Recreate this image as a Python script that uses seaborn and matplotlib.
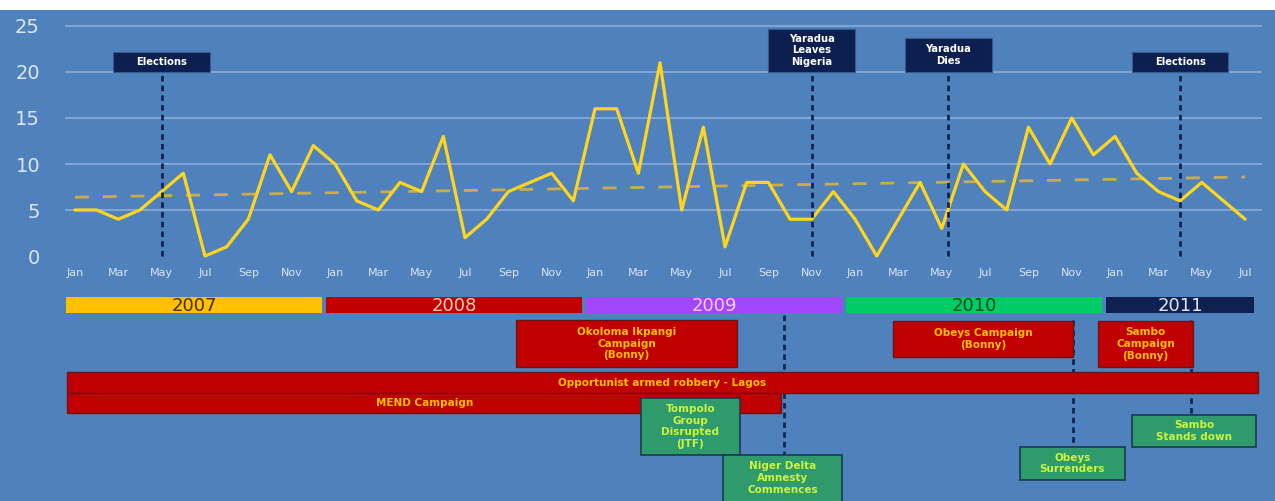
import numpy as np
import matplotlib
matplotlib.use("Agg")
import matplotlib.pyplot as plt
from matplotlib.patches import Rectangle
import seaborn as sns

sns.set_theme(style="white")
plt.rcParams['font.family'] = ['DejaVu Sans']

# monthly incident counts, Jan 2007 - Jul 2011
months = ['Jan', 'Feb', 'Mar', 'Apr', 'May', 'Jun', 'Jul', 'Aug', 'Sep', 'Oct', 'Nov', 'Dec']
counts = [5, 5, 4, 5, 7, 9, 0, 1, 4, 11, 7, 12,
          10, 6, 5, 8, 7, 13, 2, 4, 7, 8, 9, 6,
          16, 16, 9, 21, 5, 14, 1, 8, 8, 4, 4, 7,
          4, 0, 4, 8, 3, 10, 7, 5, 14, 10, 15, 11,
          13, 9, 7, 6, 8, 6, 4]
idx = np.arange(len(counts))
month_labels = [months[i % 12] for i in idx]

# political events (month index) shown above the chart
event_labels = ['Elections', 'Yaradua\nLeaves\nNigeria', 'Yaradua\nDies', 'Elections']
event_months = [4, 34, 40.3, 51]
event_widths = [4.5, 4.0, 4.0, 4.4]
event_heights = [2.2, 4.7, 3.7, 2.2]

# year bands
years = ['2007', '2008', '2009', '2010', '2011']
year_start = [0, 12, 24, 36, 48]
year_end = [12, 24, 36, 48, 55]
year_colors = ['#ffc000', '#c00000', '#a347ff', '#00cc66', '#0f2150']
year_text = ['#3b3300', '#f6c9c4', '#f1cdff', '#0b4a1f', '#e2e8f2']

# campaigns (red) and counter events (green): start month, end month, row top, row bottom
camp_labels = ['Okoloma Ikpangi\nCampaign\n(Bonny)', 'Opportunist armed robbery - Lagos',
               'MEND Campaign', 'Obeys Campaign\n(Bonny)', 'Sambo\nCampaign\n(Bonny)']
camp_start = [20.35, -0.37, -0.37, 37.75, 47.2]
camp_end = [30.55, 54.6, 32.6, 46.05, 51.6]
camp_rows = [(320, 367), (372, 393), (393, 413), (321, 357), (321, 367)]

resp_labels = ['Tompolo\nGroup\nDisrupted\n(JTF)', 'Niger Delta\nAmnesty\nCommences',
               'Obeys\nSurrenders', 'Sambo\nStands down']
resp_start = [26.1, 29.9, 43.6, 48.8]
resp_end = [30.7, 35.4, 48.45, 54.5]
resp_rows = [(398, 455), (455, 506), (447, 480), (415, 447)]
link_months = [32.7, 46.05, 51.5]
link_rows = [(315, 455), (320, 447), (320, 415)]

BG = '#4f81bd'
NAVY = '#0c1f4f'
W, H = 1275, 501

fig = plt.figure(figsize=(W / 100, H / 100), dpi=100)
fig.patch.set_facecolor(BG)
fig.patches.append(Rectangle((0, 1 - 10 / H), 1, 10 / H, transform=fig.transFigure,
                             facecolor='white', edgecolor='none', zorder=0))

xlim = (-0.46, 54.78)
left, width = 65 / W, (1262 - 65) / W

# ---- top: line chart ----
ax = fig.add_axes([left, 1 - 262 / H, width, (262 - 20) / H])
ax.set_facecolor(BG)
for s in ax.spines.values():
    s.set_visible(False)
yt = [0, 5, 10, 15, 20, 25]
for v in yt[1:]:
    ax.axhline(v, color='#86a9d8', lw=1.3, zorder=1)

sns.regplot(x=idx, y=counts, ax=ax, scatter=False, ci=None,
            line_kws=dict(color='#c9ad4c', lw=2, ls=(0, (5, 5)), zorder=2))
sns.lineplot(x=idx, y=counts, ax=ax, color='#ffd51e', lw=2.3, zorder=3)

for lab, m, w, h in zip(event_labels, event_months, event_widths, event_heights):
    ax.vlines(m, 0, 20, color='#13234f', lw=2, ls=(0, (2, 1.5)), zorder=4)
    ax.add_patch(Rectangle((m - w / 2, 20), w, h, facecolor=NAVY,
                           edgecolor='#3a5a8f', lw=0.8, zorder=5))
    ax.text(m, 20 + h / 2, lab, ha='center', va='center', color='white',
            fontsize=7.2, fontweight='bold', linespacing=1.2, zorder=6)

ax.set_xlim(*xlim)
ax.set_ylim(-0.65, 25.65)
ax.set_yticks(yt)
ax.set_xticks(idx[::2])
ax.set_xticklabels(month_labels[::2])
ax.tick_params(axis='x', length=0, labelsize=8, colors='#dce6f2', pad=4)
ax.tick_params(axis='y', length=0, labelsize=14, colors='#dce6f2', pad=18)
ax.set_xlabel('')
ax.set_ylabel('')

# ---- bottom: timeline ----
ax2 = fig.add_axes([left, 0, width, (H - 285) / H])
ax2.set_facecolor(BG)
ax2.axis('off')
ax2.set_xlim(*xlim)
ax2.set_ylim(H, 285)

for y, s, e, c, tc in zip(years, year_start, year_end, year_colors, year_text):
    x0, x1 = s - 0.4, e - 0.6
    ax2.add_patch(Rectangle((x0, 297), x1 - x0, 16, facecolor=c, edgecolor='none', zorder=3))
    ax2.text((x0 + x1) / 2, 305.5, y, ha='center', va='center', color=tc, fontsize=13, zorder=4)

for m, (y0, y1) in zip(link_months, link_rows):
    ax2.vlines(m, y0, y1, color='#13234f', lw=2, ls=(0, (2, 1.5)), zorder=1)

for lab, s, e, (y0, y1) in zip(camp_labels, camp_start, camp_end, camp_rows):
    ax2.add_patch(Rectangle((s, y0), e - s, y1 - y0, facecolor='#c00000',
                            edgecolor='#6b1616', lw=1, zorder=3))
    ax2.text((s + e) / 2, (y0 + y1) / 2, lab, ha='center', va='center', color='#ffc000',
             fontsize=7.5, fontweight='bold', linespacing=1.2, zorder=4)

for lab, s, e, (y0, y1) in zip(resp_labels, resp_start, resp_end, resp_rows):
    ax2.add_patch(Rectangle((s, y0), e - s, y1 - y0, facecolor='#2f9a6c',
                            edgecolor='#1b3a4c', lw=1.2, zorder=5))
    ax2.text((s + e) / 2, (y0 + min(y1, H)) / 2, lab, ha='center', va='center', color='#cdf53a',
             fontsize=7.5, fontweight='bold', linespacing=1.2, zorder=6)

fig.savefig('out.png', dpi=100, facecolor=fig.get_facecolor())
